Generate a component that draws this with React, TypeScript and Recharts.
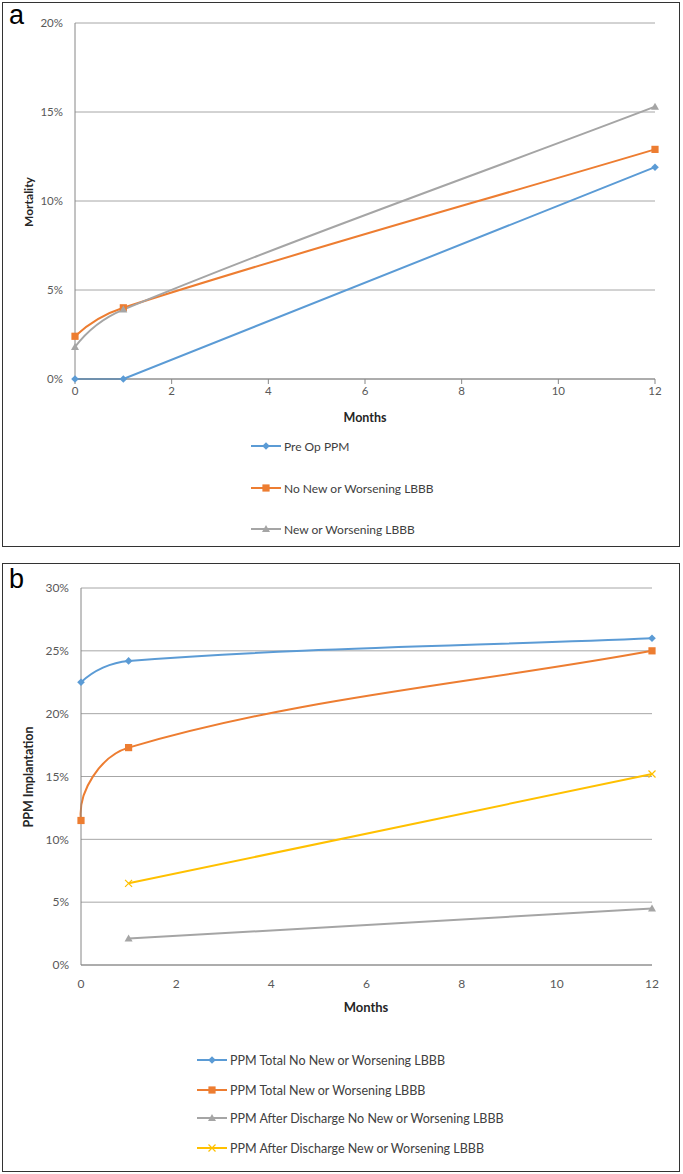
import React from 'react';
import { LineChart, Line, XAxis, YAxis, CartesianGrid, Label } from 'recharts';

// months observed
const months = [0, 1, 12];
const xTicks = [0, 2, 4, 6, 8, 10, 12];

// panel a – mortality (%)
const preOpPpm = [0, 0, 11.9];
const noNewLbbbMortality = [2.4, 4.0, 12.9];
const newLbbbMortality = [1.8, 3.9, 15.3];
const mortalityTicks = [0, 5, 10, 15, 20];

// panel b – PPM implantation (%)
const ppmTotalNoNew = [22.5, 24.2, 26.0];
const ppmTotalNew = [11.5, 17.3, 25.0];
const ppmAfterNoNew = [null, 2.1, 4.5];
const ppmAfterNew = [null, 6.5, 15.2];
const ppmTicks = [0, 5, 10, 15, 20, 25, 30];

const BLUE = '#5B9BD5';
const ORANGE = '#ED7D31';
const GRAY = '#A5A5A5';
const YELLOW = '#FFC000';
const FONT = 'Lato, "Open Sans", sans-serif';
const AXIS = '#868686';
const GRID = '#A6A6A6';

const dataA = months.map((m, i) => ({
  month: m,
  preOp: preOpPpm[i],
  noNew: noNewLbbbMortality[i],
  newLbbb: newLbbbMortality[i],
}));

const dataB = months.map((m, i) => ({
  month: m,
  totalNoNew: ppmTotalNoNew[i],
  totalNew: ppmTotalNew[i],
  afterNoNew: ppmAfterNoNew[i],
  afterNew: ppmAfterNew[i],
}));

// spreadsheet-style smoothed line: tangent at each inner point follows its neighbours,
// handle length is a third of the adjoining segment; first tangent is mirrored about the chord
function smoothCurve(context: any) {
  let pts: [number, number][] = [];
  return {
    areaStart() {},
    areaEnd() {},
    lineStart() {
      pts = [];
    },
    point(x: number, y: number) {
      pts.push([+x, +y]);
    },
    lineEnd() {
      if (!pts.length) return;
      const n = pts.length;
      const unit = (dx: number, dy: number) => {
        const len = Math.hypot(dx, dy) || 1;
        return [dx / len, dy / len];
      };
      const dirs = pts.map((_, i) => {
        const a = pts[Math.max(0, i - 1)];
        const b = pts[Math.min(n - 1, i + 1)];
        return unit(b[0] - a[0], b[1] - a[1]);
      });
      context.moveTo(pts[0][0], pts[0][1]);
      for (let i = 0; i < n - 1; i++) {
        const p = pts[i];
        const q = pts[i + 1];
        const seg = Math.hypot(q[0] - p[0], q[1] - p[1]) / 3;
        const c = unit(q[0] - p[0], q[1] - p[1]);
        let d0 = dirs[i];
        let d1 = dirs[i + 1];
        if (i === 0 && n > 2) {
          const dot = c[0] * d1[0] + c[1] * d1[1];
          d0 = [2 * dot * c[0] - d1[0], 2 * dot * c[1] - d1[1]];
        } else if (i === 0) {
          d0 = c;
        }
        if (i + 1 === n - 1) d1 = c;
        context.bezierCurveTo(
          p[0] + d0[0] * seg,
          p[1] + d0[1] * seg,
          q[0] - d1[0] * seg,
          q[1] - d1[1] * seg,
          q[0],
          q[1],
        );
      }
    },
  };
}

type Shape = 'diamond' | 'square' | 'triangle' | 'x';

function marker(shape: Shape, color: string, cx: number, cy: number) {
  switch (shape) {
    case 'diamond':
      return <path d={`M${cx},${cy - 3.8}L${cx + 3.8},${cy}L${cx},${cy + 3.8}L${cx - 3.8},${cy}Z`} fill={color} />;
    case 'square':
      return <rect x={cx - 3.6} y={cy - 3.6} width={7.2} height={7.2} fill={color} />;
    case 'triangle':
      return <path d={`M${cx},${cy - 4}L${cx + 4},${cy + 3}L${cx - 4},${cy + 3}Z`} fill={color} />;
    default:
      return (
        <path
          d={`M${cx - 3.5},${cy - 3.5}L${cx + 3.5},${cy + 3.5}M${cx + 3.5},${cy - 3.5}L${cx - 3.5},${cy + 3.5}`}
          stroke={color}
          strokeWidth={1.2}
          fill="none"
        />
      );
  }
}

const dotFor = (shape: Shape, color: string) => (props: any) => {
  const { cx, cy, index } = props;
  if (cx == null || cy == null || props.value == null || (Array.isArray(props.value) && props.value[1] == null)) {
    return <g key={`d-${shape}-${index}`} />;
  }
  return <g key={`d-${shape}-${index}`}>{marker(shape, color, cx, cy)}</g>;
};

const LegendRow = ({ top, left, shape, color, label, fontSize }: any) => (
  <div
    style={{
      position: 'absolute',
      left,
      top: top - 9,
      height: 18,
      display: 'flex',
      alignItems: 'center',
      fontFamily: FONT,
      fontSize,
      color: '#404040',
      whiteSpace: 'nowrap',
    }}
  >
    <svg width={30} height={12} style={{ marginRight: 3 }}>
      <line x1={0} y1={6} x2={30} y2={6} stroke={color} strokeWidth={2} />
      {marker(shape, color, 15, 6)}
    </svg>
    <span>{label}</span>
  </div>
);

const tickStyle = { fill: '#595959', fontSize: 11.5, fontFamily: FONT };

export default function App() {
  return (
    <div style={{ position: 'absolute', left: 0, top: 0, width: 683, height: 1174, background: '#fff' }}>
      {/* panel frames */}
      <div style={{ position: 'absolute', left: 2, top: 2, width: 676, height: 543, border: '1.5px solid #333' }} />
      <div style={{ position: 'absolute', left: 2, top: 563, width: 676, height: 607, border: '1.5px solid #333' }} />
      <div style={{ position: 'absolute', left: 9, top: 0, fontFamily: 'Arial, "Liberation Sans", sans-serif', fontSize: 27 }}>a</div>
      <div style={{ position: 'absolute', left: 9, top: 564, fontFamily: 'Arial, "Liberation Sans", sans-serif', fontSize: 27 }}>b</div>

      {/* panel a */}
      <div style={{ position: 'absolute', left: 0, top: 0 }}>
        <LineChart width={683} height={440} data={dataA} margin={{ top: 23, right: 28, bottom: 31, left: 30 }}>
          <CartesianGrid vertical={false} stroke={GRID} />
          <XAxis
            dataKey="month"
            type="number"
            domain={[0, 12]}
            ticks={xTicks}
            interval={0}
            height={30}
            tickSize={5}
            tickMargin={3}
            stroke={AXIS}
            tick={tickStyle}
          >
            <Label
              content={() => (
                <text x={365} y={417} textAnchor="middle" dominantBaseline="central" fontFamily={FONT} fontSize={12.5} fontWeight={700} fill="#262626">
                  Months
                </text>
              )}
            />
          </XAxis>
          <YAxis
            type="number"
            domain={[0, 20]}
            ticks={mortalityTicks}
            interval={0}
            width={45}
            tickLine={false}
            tickSize={0}
            tickMargin={12}
            stroke={AXIS}
            tick={tickStyle}
            tickFormatter={(v) => `${v}%`}
          >
            <Label
              content={() => (
                <text x={28} y={202} transform="rotate(-90 28 202)" textAnchor="middle" dominantBaseline="central" fontFamily={FONT} fontSize={12} fontWeight={700} fill="#262626">
                  Mortality
                </text>
              )}
            />
          </YAxis>
          <Line dataKey="preOp" type="linear" stroke={BLUE} strokeWidth={2} dot={dotFor('diamond', BLUE)} isAnimationActive={false} />
          <Line dataKey="noNew" type={smoothCurve as any} stroke={ORANGE} strokeWidth={2} dot={dotFor('square', ORANGE)} isAnimationActive={false} />
          <Line dataKey="newLbbb" type={smoothCurve as any} stroke={GRAY} strokeWidth={2} dot={dotFor('triangle', GRAY)} isAnimationActive={false} />
        </LineChart>
      </div>
      <LegendRow top={446} left={251} shape="diamond" color={BLUE} label="Pre Op PPM" fontSize={12} />
      <LegendRow top={488} left={251} shape="square" color={ORANGE} label="No New or Worsening LBBB" fontSize={12} />
      <LegendRow top={529} left={251} shape="triangle" color={GRAY} label="New or Worsening LBBB" fontSize={12} />

      {/* panel b */}
      <div style={{ position: 'absolute', left: 0, top: 563 }}>
        <LineChart width={683} height={460} data={dataB} margin={{ top: 25, right: 31, bottom: 28, left: 36 }}>
          <CartesianGrid vertical={false} stroke={GRID} />
          <XAxis
            dataKey="month"
            type="number"
            domain={[0, 12]}
            ticks={xTicks}
            interval={0}
            height={30}
            tickSize={0}
            tickMargin={14}
            tickLine={false}
            stroke={AXIS}
            tick={{ ...tickStyle, fontSize: 12 }}
          >
            <Label
              content={() => (
                <text x={366} y={444} textAnchor="middle" dominantBaseline="central" fontFamily={FONT} fontSize={13} fontWeight={700} fill="#262626">
                  Months
                </text>
              )}
            />
          </XAxis>
          <YAxis
            type="number"
            domain={[0, 30]}
            ticks={ppmTicks}
            interval={0}
            width={45}
            tickLine={false}
            tickSize={0}
            tickMargin={12}
            stroke={AXIS}
            tick={{ ...tickStyle, fontSize: 12 }}
            tickFormatter={(v) => `${v}%`}
          >
            <Label
              content={() => (
                <text x={28} y={214} transform="rotate(-90 28 214)" textAnchor="middle" dominantBaseline="central" fontFamily={FONT} fontSize={12.5} fontWeight={700} fill="#262626">
                  PPM Implantation
                </text>
              )}
            />
          </YAxis>
          <Line dataKey="totalNoNew" type={smoothCurve as any} stroke={BLUE} strokeWidth={2} dot={dotFor('diamond', BLUE)} isAnimationActive={false} />
          <Line dataKey="totalNew" type={smoothCurve as any} stroke={ORANGE} strokeWidth={2} dot={dotFor('square', ORANGE)} isAnimationActive={false} />
          <Line dataKey="afterNoNew" type="linear" stroke={GRAY} strokeWidth={2} dot={dotFor('triangle', GRAY)} isAnimationActive={false} />
          <Line dataKey="afterNew" type="linear" stroke={YELLOW} strokeWidth={2} dot={dotFor('x', YELLOW)} isAnimationActive={false} />
        </LineChart>
      </div>
      <LegendRow top={1060} left={197} shape="diamond" color={BLUE} label="PPM Total No New or Worsening LBBB" fontSize={12.5} />
      <LegendRow top={1090} left={197} shape="square" color={ORANGE} label="PPM Total New or Worsening LBBB" fontSize={12.5} />
      <LegendRow top={1118} left={197} shape="triangle" color={GRAY} label="PPM After Discharge No New or Worsening LBBB" fontSize={12.5} />
      <LegendRow top={1148} left={197} shape="x" color={YELLOW} label="PPM After Discharge New or Worsening LBBB" fontSize={12.5} />
    </div>
  );
}
